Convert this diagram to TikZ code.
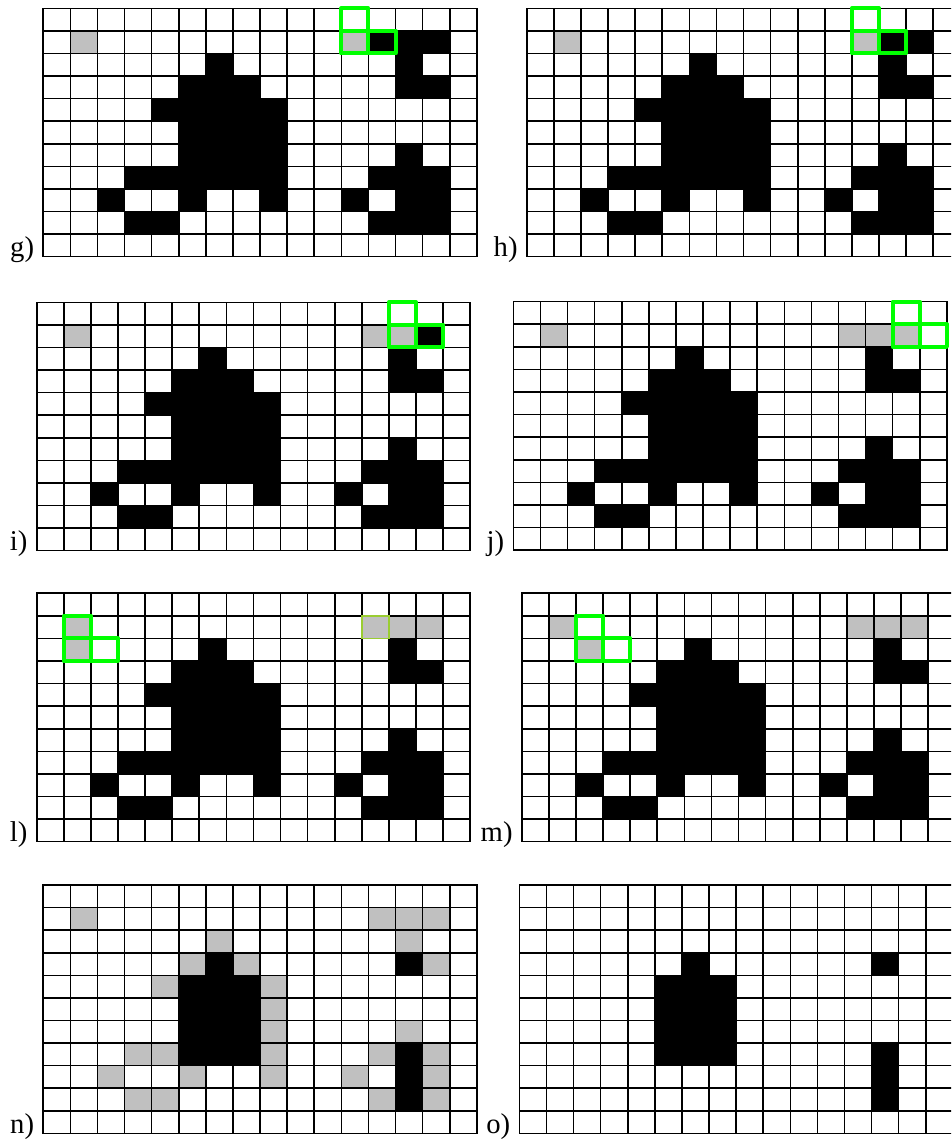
\documentclass[tikz,border=0pt]{standalone}
\usepackage{fontspec}
\setmainfont{Liberation Serif}
\usepackage{tikz}
\usetikzlibrary{positioning,calc}
\definecolor{CellGray}{RGB}{192,192,192}
\definecolor{ProbeGreen}{RGB}{0,255,0}
\definecolor{StartOlive}{RGB}{154,205,50}
\tikzset{
  gridline/.style={draw=black,line width=1.2pt,line cap=rect},
  graycell/.style={fill=CellGray},
  blackcell/.style={fill=black},
  probe/.style={draw=ProbeGreen,line width=3pt,line join=round},
  startbox/.style={draw=StartOlive,line width=1.1pt},
  tag/.style={anchor=base east,inner sep=0pt,font=\fontsize{21.5}{26}\selectfont},
}
% black cells shared by panels g) to m), as row/column
\newcommand{\blobcells}{2/6,2/13,3/5,3/6,3/7,3/13,3/14,4/4,4/5,4/6,4/7,4/8,
  5/5,5/6,5/7,5/8,6/5,6/6,6/7,6/8,6/13,7/3,7/4,7/5,7/6,7/7,7/8,7/12,7/13,7/14,
  8/2,8/5,8/8,8/11,8/13,8/14,9/3,9/4,9/12,9/13,9/14}
% black cells left in panels n) and o)
\newcommand{\corecells}{3/6,3/13,4/5,4/6,4/7,5/5,5/6,5/7,6/5,6/6,6/7,
  7/5,7/6,7/7,7/13,8/13,9/13}
\newcommand{\gridlines}{%
  \foreach \c in {0,...,16} \draw[gridline] (\c,0) -- (\c,11);
  \foreach \r in {0,...,11} \draw[gridline] (0,\r) -- (16,\r);
}

\begin{document}
\begin{tikzpicture}[x=20.32pt,y=-16.935pt]
\clip (0,0) rectangle (35.105,50.487);
\fill[white] (0,0) rectangle (35.105,50.487);
\coordinate (g) at (1.598,0.368);
\coordinate (h) at (19.443,0.368);
\coordinate (i) at (1.355,13.388);
\coordinate (j) at (18.948,13.361);
\coordinate (l) at (1.355,26.275);
\coordinate (m) at (19.258,26.275);
\coordinate (n) at (1.598,39.194);
\coordinate (o) at (19.169,39.194);

% g)
\begin{scope}[shift={(g)}]
\foreach \r/\c in \blobcells \fill[blackcell] (\c,\r) rectangle ++(1,1);
\foreach \r/\c in {1/12,1/13,1/14} \fill[blackcell] (\c,\r) rectangle ++(1,1);
\foreach \r/\c in {1/1,1/11} \fill[graycell] (\c,\r) rectangle ++(1,1);
\gridlines
\foreach \r/\c in {0/11,1/11,1/12} \draw[probe] (\c,\r) rectangle ++(1,1);
\node[tag] (tg) at (-0.33,11) {g)};
\end{scope}

% h)
\begin{scope}[shift={(h)}]
\foreach \r/\c in \blobcells \fill[blackcell] (\c,\r) rectangle ++(1,1);
\foreach \r/\c in {1/13,1/14} \fill[blackcell] (\c,\r) rectangle ++(1,1);
\foreach \r/\c in {1/1,1/12} \fill[graycell] (\c,\r) rectangle ++(1,1);
\gridlines
\foreach \r/\c in {0/12,1/12,1/13} \draw[probe] (\c,\r) rectangle ++(1,1);
\node[tag] (th) at (-0.33,11) {h)};
\end{scope}

% i)
\begin{scope}[shift={(i)}]
\foreach \r/\c in \blobcells \fill[blackcell] (\c,\r) rectangle ++(1,1);
\fill[blackcell] (14,1) rectangle ++(1,1);
\foreach \r/\c in {1/1,1/12,1/13} \fill[graycell] (\c,\r) rectangle ++(1,1);
\gridlines
\foreach \r/\c in {0/13,1/13,1/14} \draw[probe] (\c,\r) rectangle ++(1,1);
\node[tag] (ti) at (-0.33,11) {i)};
\end{scope}

% j)
\begin{scope}[shift={(j)}]
\foreach \r/\c in \blobcells \fill[blackcell] (\c,\r) rectangle ++(1,1);
\foreach \r/\c in {1/1,1/12,1/13,1/14} \fill[graycell] (\c,\r) rectangle ++(1,1);
\gridlines
\foreach \r/\c in {0/14,1/14,1/15} \draw[probe] (\c,\r) rectangle ++(1,1);
\node[tag] (tj) at (-0.33,11) {j)};
\end{scope}

% l)
\begin{scope}[shift={(l)}]
\foreach \r/\c in \blobcells \fill[blackcell] (\c,\r) rectangle ++(1,1);
\foreach \r/\c in {1/1,2/1,1/12,1/13,1/14} \fill[graycell] (\c,\r) rectangle ++(1,1);
\gridlines
\draw[startbox] (12,1) rectangle ++(1,1);
\foreach \r/\c in {1/1,2/1,2/2} \draw[probe] (\c,\r) rectangle ++(1,1);
\node[tag] (tl) at (-0.33,11) {l)};
\end{scope}

% m)
\begin{scope}[shift={(m)}]
\foreach \r/\c in \blobcells \fill[blackcell] (\c,\r) rectangle ++(1,1);
\foreach \r/\c in {1/1,2/2,1/12,1/13,1/14} \fill[graycell] (\c,\r) rectangle ++(1,1);
\gridlines
\foreach \r/\c in {1/2,2/2,2/3} \draw[probe] (\c,\r) rectangle ++(1,1);
\node[tag] (tm) at (-0.33,11) {m)};
\end{scope}

% n)
\begin{scope}[shift={(n)}]
\foreach \r/\c in \corecells \fill[blackcell] (\c,\r) rectangle ++(1,1);
\foreach \r/\c in {1/1,1/12,1/13,1/14,2/6,2/13,3/5,3/7,3/14,4/4,4/8,5/8,6/8,6/13,
  7/3,7/4,7/8,7/12,7/14,8/2,8/5,8/8,8/11,8/14,9/3,9/4,9/12,9/14}
  \fill[graycell] (\c,\r) rectangle ++(1,1);
\gridlines
\node[tag] (tn) at (-0.33,11) {n)};
\end{scope}

% o)
\begin{scope}[shift={(o)}]
\foreach \r/\c in \corecells \fill[blackcell] (\c,\r) rectangle ++(1,1);
\gridlines
\node[tag] (to) at (-0.33,11) {o)};
\end{scope}
\end{tikzpicture}
\end{document}
